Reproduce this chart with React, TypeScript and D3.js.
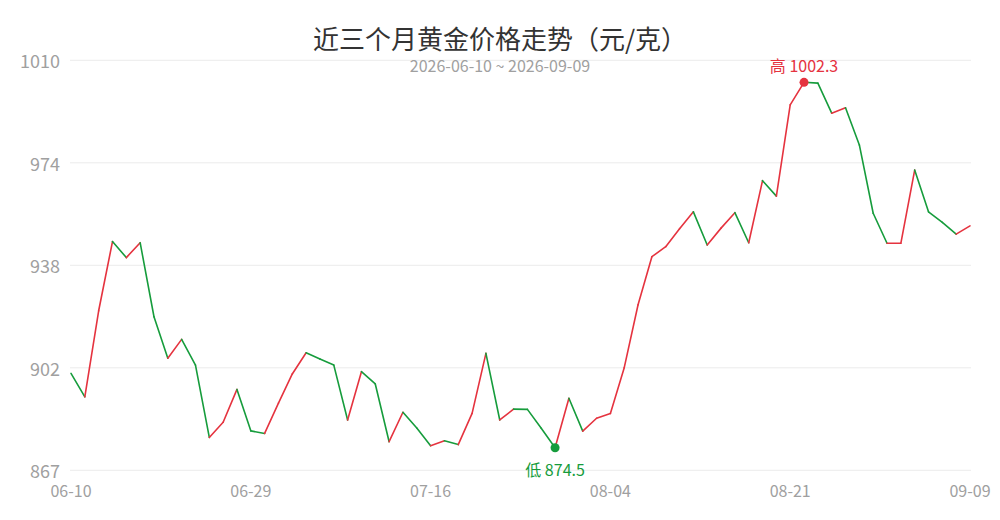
import React, {useEffect, useRef} from 'react';
import * as d3 from 'd3';

// Gold price, yuan per gram, one value per weekday from 2026-06-10 to 2026-09-09
const prices: number[] = [
  900.5, 892.3, 922.4, 946.6, 941.0, 946.2, 920.3, 905.8, 912.4, 903.4,
  878.1, 883.4, 894.9, 880.4, 879.5, 890.1, 900.3, 907.7, 905.5, 903.4,
  884.2, 901.1, 896.8, 876.6, 886.9, 881.4, 875.2, 876.9, 875.6, 886.5,
  907.5, 884.2, 888.0, 887.9, 881.3, 874.5, 891.8, 880.3, 884.8, 886.5,
  902.5, 924.5, 941.3, 944.8, 951.1, 957.0, 945.4, 951.3, 956.7, 946.2,
  967.9, 962.5, 994.4, 1002.3, 1002.0, 991.5, 993.4, 980.4, 956.5, 946.0,
  946.0, 971.6, 957.0, 953.3, 949.2, 952.1,
];

const startDate = '2026-06-10';
const endDate = '2026-09-09';
const xTickLabels = ['06-10', '06-29', '07-16', '08-04', '08-21', '09-09'];
const yDomain: [number, number] = [866.6, 1010];
const yTickCount = 5;

const title = '近三个月黄金价格走势（元/克）';
const subtitle = `${startDate} ~ ${endDate}`;

const UP = '#e5333f';
const DOWN = '#169c3c';
const FONT = '"Noto Sans CJK SC", "Noto Sans", sans-serif';

const W = 1000;
const H = 520;

export default function App() {
  const svgRef = useRef<SVGSVGElement>(null);

  useEffect(() => {
    if (!svgRef.current) return;
    const svg = d3.select(svgRef.current);
    svg.selectAll('*').remove();

    // weekday dates as the categories
    const dates = d3
      .timeDay.range(new Date(startDate + 'T00:00:00'), d3.timeDay.offset(new Date(endDate + 'T00:00:00'), 1))
      .filter((d) => d.getDay() !== 0 && d.getDay() !== 6);
    const fmt = d3.timeFormat('%m-%d');
    const labels = dates.map((d) => fmt(d));

    const x = d3.scaleLinear().domain([0, prices.length - 1]).range([71, 970]);
    const y = d3.scaleLinear().domain(yDomain).range([470.3, 60.3]);

    const step = (yDomain[1] - yDomain[0]) / (yTickCount - 1);
    const yTicks = d3.range(yTickCount).map((i) => yDomain[0] + i * step);

    // grid
    svg
      .append('g')
      .selectAll('line')
      .data(yTicks)
      .join('line')
      .attr('x1', 70)
      .attr('x2', 971)
      .attr('y1', (d) => y(d))
      .attr('y2', (d) => y(d))
      .attr('stroke', '#ececec')
      .attr('stroke-width', 1);

    svg
      .append('g')
      .selectAll('text')
      .data(yTicks)
      .join('text')
      .attr('x', 60)
      .attr('y', (d) => y(d) + 7.7)
      .attr('text-anchor', 'end')
      .attr('fill', '#a0a0a0')
      .style('font', `18px ${FONT}`)
      .text((d) => d3.format('.0f')(d));

    // x labels
    svg
      .append('g')
      .selectAll('text')
      .data(xTickLabels)
      .join('text')
      .attr('x', (d) => x(labels.indexOf(d)))
      .attr('y', 497)
      .attr('text-anchor', 'middle')
      .attr('fill', '#a0a0a0')
      .style('font', `16px ${FONT}`)
      .text((d) => d);

    // title
    svg
      .append('text')
      .attr('x', W / 2)
      .attr('y', 48.5)
      .attr('text-anchor', 'middle')
      .attr('fill', '#333')
      .style('font', `26px ${FONT}`)
      .text(title);

    svg
      .append('text')
      .attr('x', W / 2)
      .attr('y', 72)
      .attr('text-anchor', 'middle')
      .attr('fill', '#a0a0a0')
      .style('font', `16px ${FONT}`)
      .text(subtitle);

    // line segments coloured by direction
    const segs = d3.pairs(prices.map((v, i) => ({v, i})));
    svg
      .append('g')
      .selectAll('line')
      .data(segs)
      .join('line')
      .attr('x1', (d) => x(d[0].i))
      .attr('y1', (d) => y(d[0].v))
      .attr('x2', (d) => x(d[1].i))
      .attr('y2', (d) => y(d[1].v))
      .attr('stroke', (d) => (d[1].v >= d[0].v ? UP : DOWN))
      .attr('stroke-width', 1.6)
      .attr('stroke-linecap', 'round');

    // high / low markers
    const hi = d3.maxIndex(prices);
    const lo = d3.minIndex(prices);

    svg
      .append('circle')
      .attr('cx', x(hi))
      .attr('cy', y(prices[hi]))
      .attr('r', 4.5)
      .attr('fill', UP);
    svg
      .append('text')
      .attr('x', x(hi))
      .attr('y', y(prices[hi]) - 10.5)
      .attr('text-anchor', 'middle')
      .attr('fill', UP)
      .style('font', `16px ${FONT}`)
      .text(`高 ${prices[hi].toFixed(1)}`);

    svg
      .append('circle')
      .attr('cx', x(lo))
      .attr('cy', y(prices[lo]))
      .attr('r', 4.5)
      .attr('fill', DOWN);
    svg
      .append('text')
      .attr('x', x(lo))
      .attr('y', y(prices[lo]) + 28.5)
      .attr('text-anchor', 'middle')
      .attr('fill', DOWN)
      .style('font', `16px ${FONT}`)
      .text(`低 ${prices[lo].toFixed(1)}`);
  }, []);

  return (
    <div style={{position: 'fixed', left: 0, top: 0, background: '#fff'}}>
      <svg ref={svgRef} width={W} height={H} style={{display: 'block'}} />
    </div>
  );
}
